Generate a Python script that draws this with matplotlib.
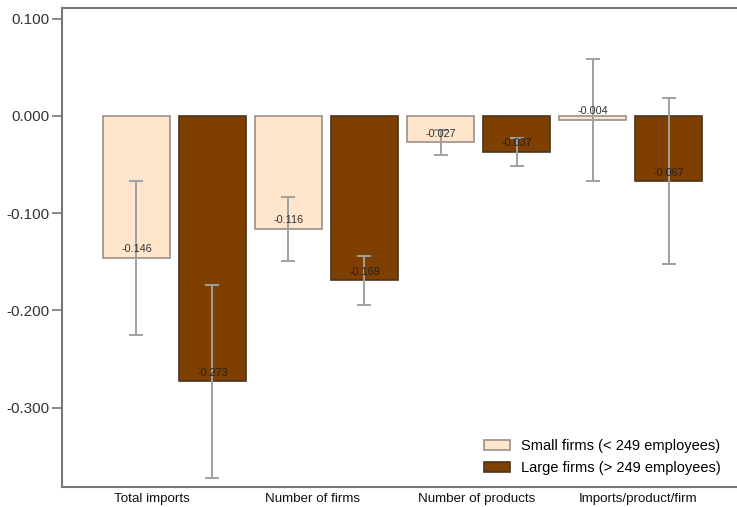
import numpy as np
import matplotlib
matplotlib.use("Agg")
import matplotlib.pyplot as plt

plt.rcParams["font.family"] = ["Liberation Sans", "DejaVu Sans"]

# Datos
categorias = ["Total imports", "Number of firms", "Number of products", "Imports/product/firm"]
pequenas = [-0.146, -0.116, -0.027, -0.004]
grandes = [-0.273, -0.169, -0.037, -0.067]
err_pequenas = [0.079, 0.033, 0.013, 0.063]
err_grandes = [0.099, 0.025, 0.014, 0.085]
etiquetas_y = ["0.100", "0.000", "-0.100", "-0.200", "-0.300"]
valores_y = [0.1, 0.0, -0.1, -0.2, -0.3]

col_peq = "#FFE5CC"
col_gra = "#7F3F00"
gris = "#777777"

fig = plt.figure(figsize=(7.37, 5.07), dpi=100)
ax = fig.add_axes([0.084, 0.039, 0.916, 0.945])

x = np.arange(len(categorias)) * 2
ancho = 0.88

ax.bar(x, pequenas, ancho, color=col_peq, edgecolor="#999088", linewidth=1.2,
       label="Small firms (< 249 employees)", zorder=2)
ax.bar(x + 1, grandes, ancho, color=col_gra, edgecolor="#4a3520", linewidth=1.2,
       label="Large firms (> 249 employees)", zorder=2)

ax.errorbar(x, pequenas, yerr=err_pequenas, fmt="none", ecolor="#a0a0a0",
            elinewidth=1.4, capsize=5, capthick=1.4, zorder=3)
ax.errorbar(x + 1, grandes, yerr=err_grandes, fmt="none", ecolor="#a0a0a0",
            elinewidth=1.4, capsize=5, capthick=1.4, zorder=3)

for xi, v in zip(x, pequenas):
    ax.annotate(f"{v:.3f}", (xi, v), xytext=(0, 2.5), textcoords="offset points",
                ha="center", va="bottom", fontsize=7.8, color="#333333", zorder=4)
for xi, v in zip(x + 1, grandes):
    ax.annotate(f"{v:.3f}", (xi, v), xytext=(0, 2.5), textcoords="offset points",
                ha="center", va="bottom", fontsize=7.8, color="#222222", zorder=4)

ax.set_xlim(-0.98, 7.9)
ax.set_ylim(-0.382, 0.111)
ax.set_yticks(valores_y)
ax.set_yticklabels(etiquetas_y, fontsize=11, color="#333333")
ax.set_xticks([0.198, 2.31, 4.47, 6.60])
ax.set_xticklabels(categorias, fontsize=9.6, color="#111111")
ax.tick_params(axis="x", length=0, pad=4)
ax.tick_params(axis="y", length=7, width=1.2, color=gris, pad=2)

for s in ["left", "bottom", "top"]:
    ax.spines[s].set_color(gris)
    ax.spines[s].set_linewidth(1.5)
ax.spines["right"].set_visible(False)

ax.legend(loc="lower right", frameon=False, fontsize=10.5, handlelength=1.8,
          handleheight=0.62, handletextpad=0.75, borderaxespad=0.0,
          labelspacing=0.55, bbox_to_anchor=(0.985, 0.013))

plt.savefig("out.png", dpi=100)
